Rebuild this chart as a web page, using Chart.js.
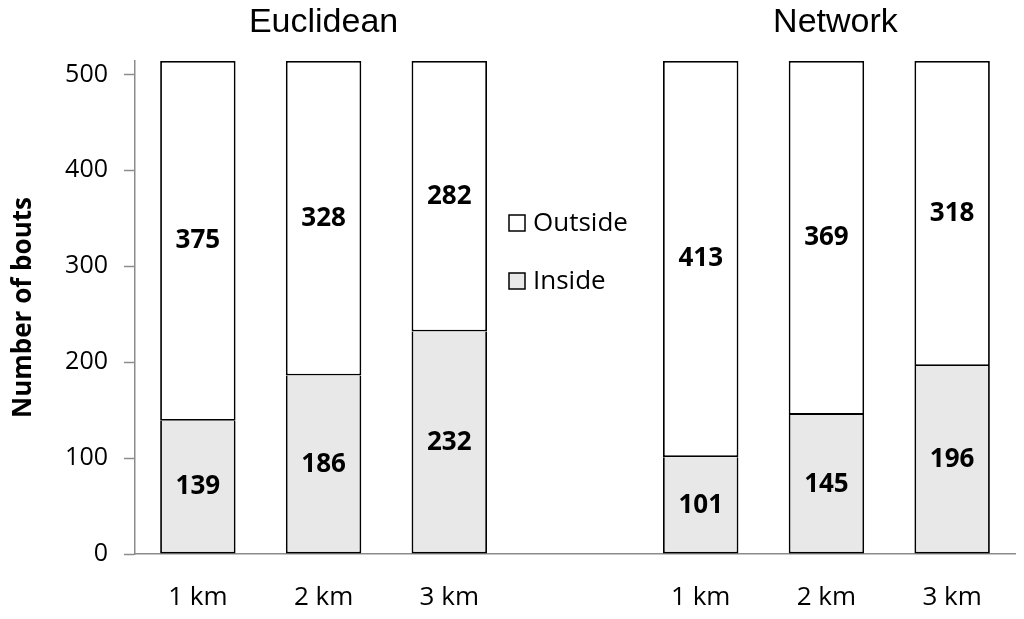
<!DOCTYPE html>
<html lang="en">
<head>
    <meta charset="UTF-8">
    <title>Number of bouts</title>
    <script src="https://cdn.jsdelivr.net/npm/chart.js"></script>
    <style>
        * {
            margin: 0;
            padding: 0;
            box-sizing: border-box;
        }

        body {
            background: #ffffff;
        }

        .chart-box {
            width: 1024px;
            height: 619px;
            position: relative;
        }
    </style>
</head>
<body>
    <div class="chart-box">
        <canvas id="boutsChart"></canvas>
    </div>

    <script>
        // values (empty slot in the middle holds the legend)
        const categories = ['1 km', '2 km', '3 km', '', '1 km', '2 km', '3 km'];
        const insideBouts = [139, 186, 232, null, 101, 145, 196];
        const outsideBouts = [375, 328, 282, null, 413, 369, 318];
        const groupTitles = ['Euclidean', 'Network'];
        const groupCenters = [1, 5];
        const yTicks = [0, 100, 200, 300, 400, 500];

        const bodyFont = "'Open Sans', 'Lato', sans-serif";
        const axisGray = '#8c8c8c';

        // bold counts inside each segment
        const valueLabels = {
            id: 'valueLabels',
            afterDatasetsDraw(chart) {
                const ctx = chart.ctx;
                ctx.save();
                ctx.font = "bold 26px " + bodyFont;
                ctx.fillStyle = '#000';
                ctx.textAlign = 'center';
                ctx.textBaseline = 'middle';
                chart.data.datasets.forEach((ds, i) => {
                    chart.getDatasetMeta(i).data.forEach((bar, j) => {
                        const v = ds.data[j];
                        if (v == null) return;
                        ctx.fillText(v, bar.x, (bar.y + bar.base) / 2);
                    });
                });
                ctx.restore();
            }
        };

        // group titles above the bars and legend in the empty middle slot
        const extras = {
            id: 'extras',
            afterDraw(chart) {
                const ctx = chart.ctx;
                const x = chart.scales.x;
                const area = chart.chartArea;
                ctx.save();
                ctx.fillStyle = '#000';
                ctx.textBaseline = 'middle';
                ctx.textAlign = 'center';
                ctx.font = "34px 'Liberation Sans', Arial, sans-serif";
                groupTitles.forEach((t, i) => {
                    ctx.fillText(t, x.getPixelForValue(groupCenters[i]) + (i ? 9 : 0), 23);
                });

                const lx = x.getPixelForValue(3) - 66;
                const rows = [
                    { ds: chart.data.datasets[1], y: area.top + 162 },
                    { ds: chart.data.datasets[0], y: area.top + 220 }
                ];
                ctx.textAlign = 'left';
                ctx.font = "26px " + bodyFont;
                rows.forEach(r => {
                    ctx.fillStyle = r.ds.backgroundColor;
                    ctx.fillRect(lx, r.y - 8, 16, 16);
                    ctx.strokeStyle = '#000';
                    ctx.lineWidth = 1.5;
                    ctx.strokeRect(lx, r.y - 8, 16, 16);
                    ctx.fillStyle = '#000';
                    ctx.fillText(r.ds.label, lx + 24, r.y + 1);
                });
                ctx.restore();
            }
        };

        const ctx = document.getElementById('boutsChart').getContext('2d');
        new Chart(ctx, {
            type: 'bar',
            data: {
                labels: categories,
                datasets: [{
                    label: 'Inside',
                    data: insideBouts,
                    backgroundColor: '#e8e8e8',
                    borderColor: '#000',
                    borderWidth: 1.8,
                    borderSkipped: 'top'
                }, {
                    label: 'Outside',
                    data: outsideBouts,
                    backgroundColor: '#ffffff',
                    borderColor: '#000',
                    borderWidth: 1.8,
                    borderSkipped: false
                }]
            },
            options: {
                responsive: true,
                maintainAspectRatio: false,
                animation: false,
                datasets: {
                    bar: {
                        categoryPercentage: 1,
                        barPercentage: 0.6
                    }
                },
                layout: {
                    padding: { top: 61, right: 9, left: 0, bottom: 0 }
                },
                plugins: {
                    legend: { display: false },
                    tooltip: { enabled: false }
                },
                scales: {
                    x: {
                        stacked: true,
                        grid: { display: false, drawTicks: false },
                        border: { display: true, color: axisGray, width: 1.5 },
                        ticks: {
                            color: '#000',
                            padding: 28,
                            maxRotation: 0,
                            autoSkip: false,
                            font: { family: bodyFont, size: 26 }
                        },
                        afterFit(scale) {
                            scale.height = 65;
                        }
                    },
                    y: {
                        stacked: true,
                        min: 0,
                        max: 514,
                        grid: {
                            drawOnChartArea: false,
                            tickLength: 11,
                            tickColor: axisGray,
                            tickWidth: 1.5
                        },
                        border: { display: true, color: axisGray, width: 1.5 },
                        ticks: {
                            color: '#000',
                            padding: 16,
                            font: { family: bodyFont, size: 25 }
                        },
                        afterBuildTicks(scale) {
                            scale.ticks = yTicks.map(v => ({ value: v }));
                        },
                        afterFit(scale) {
                            scale.width = 135;
                        },
                        title: {
                            display: true,
                            text: 'Number of bouts',
                            color: '#000',
                            padding: { top: 8, bottom: 0 },
                            font: { family: bodyFont, size: 26, weight: 'bold' }
                        }
                    }
                }
            },
            plugins: [valueLabels, extras]
        });
    </script>
</body>
</html>
